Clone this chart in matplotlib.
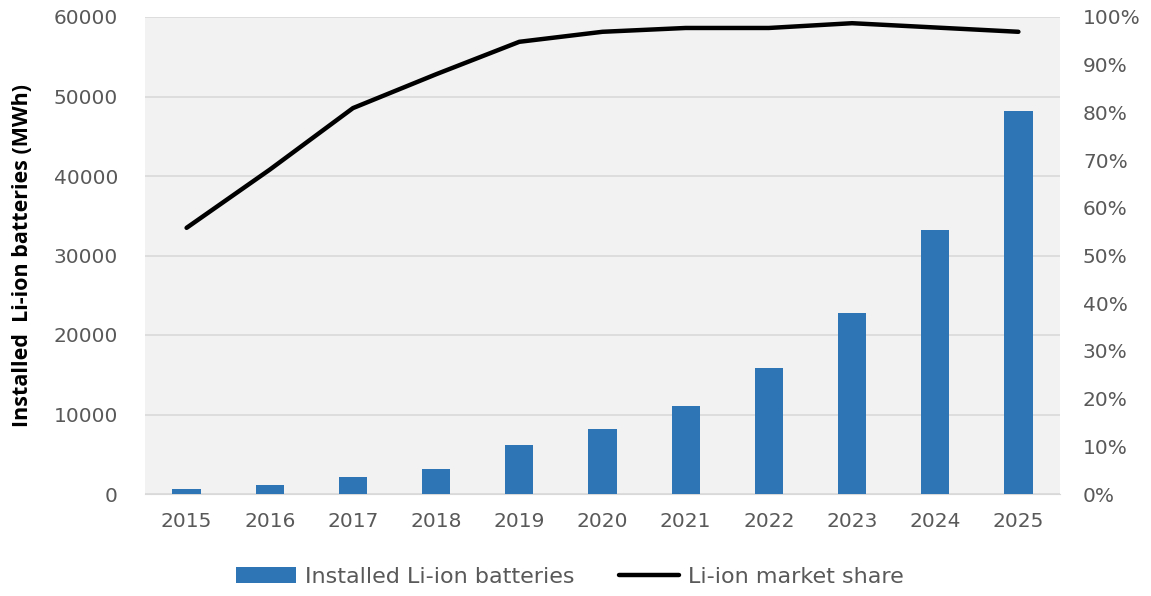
import matplotlib.pyplot as plt
from matplotlib.ticker import PercentFormatter

years = ['2015', '2016', '2017', '2018', '2019', '2020', '2021', '2022', '2023', '2024', '2025']
installed_mwh = [600, 1100, 2100, 3100, 6150, 8200, 11050, 15850, 22750, 33200, 48200]
market_share = [55.8, 68, 80.9, 88, 94.8, 96.9, 97.7, 97.7, 98.7, 97.8, 96.9]

plt.rcParams['font.family'] = ['DejaVu Sans']
tick_color = '#595959'

fig = plt.figure(figsize=(11.51, 5.96), dpi=100)
ax = fig.add_axes([145 / 1151, 1 - 494 / 596, 915 / 1151, 477 / 596])
ax2 = ax.twinx()

x = range(len(years))
bars = ax.bar(x, installed_mwh, width=0.34, color='#2e75b6', zorder=3,
              label='Installed Li-ion batteries')
line, = ax2.plot(x, market_share, color='black', linewidth=3.2,
                 solid_capstyle='round', label='Li-ion market share')

ax.set_facecolor('#f2f2f2')
ax.set_xlim(-0.5, len(years) - 0.5)
ax.set_ylim(0, 60000)
ax.set_yticks(range(0, 60001, 10000))
ax2.set_ylim(0, 100)
ax2.set_yticks(range(0, 101, 10))
ax2.yaxis.set_major_formatter(PercentFormatter(decimals=0))
ax.set_xticks(list(x))
ax.set_xticklabels(years)

ax.grid(axis='y', color='#d9d9d9', linewidth=1.2, zorder=0)
for a in (ax, ax2):
    for s in a.spines.values():
        s.set_visible(False)
    a.tick_params(length=0, colors=tick_color, labelsize=14.5)
ax.spines['bottom'].set_visible(True)
ax.spines['bottom'].set_color('#d9d9d9')
ax.tick_params(axis='y', pad=19.5)
ax.tick_params(axis='x', pad=13)
ax2.tick_params(axis='y', pad=16.5)

ax.set_ylabel('Installed  Li-ion batteries (MWh)', fontsize=15.5, fontweight='bold',
              color='black', family='Open Sans')
ax.yaxis.set_label_coords(-112 / 915, 0.5)

fig.legend([bars, line], ['Installed Li-ion batteries', 'Li-ion market share'],
           loc='center', bbox_to_anchor=(570 / 1151, 1 - 577 / 596), ncol=2,
           frameon=False, fontsize=16, labelcolor=tick_color, handlelength=2.7,
           handletextpad=0.4, columnspacing=2.0)

fig.savefig('out.png', dpi=100)
